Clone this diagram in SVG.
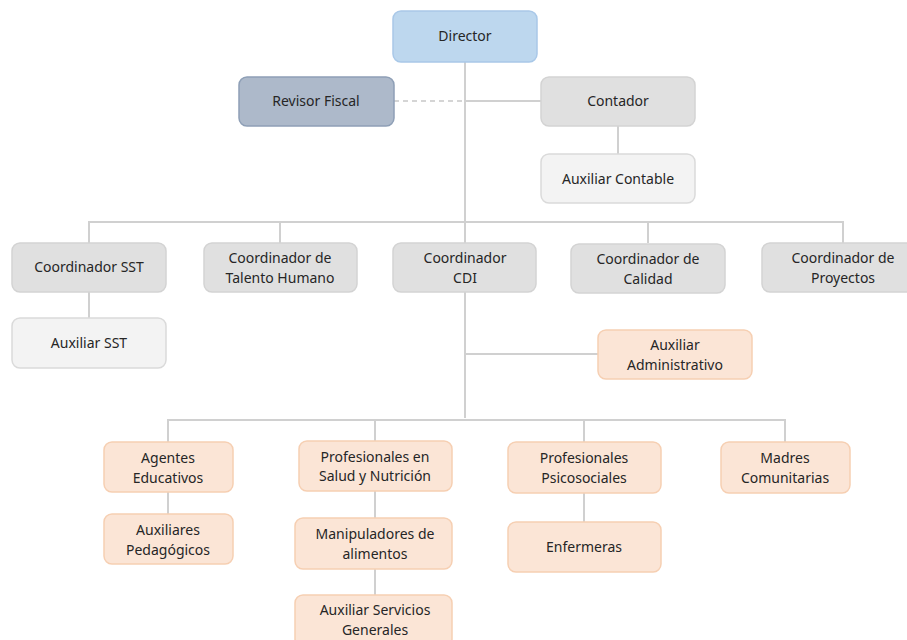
<svg xmlns="http://www.w3.org/2000/svg" width="907" height="640" viewBox="0 0 907 640">
<style>
.n{stroke-width:1.5}
.blue{fill:#bdd7ee;stroke:#a9c8e8}
.dark{fill:#adb9ca;stroke:#8e9fb6}
.gray{fill:#e0e0e0;stroke:#d3d3d3}
.light{fill:#f3f3f3;stroke:#dadada}
.org{fill:#fbe5d6;stroke:#f6cfb2}
text{font-family:"Noto Sans","Open Sans",sans-serif;font-size:14px;fill:#262626;text-anchor:middle}
.c{stroke:#d0d0d0;stroke-width:2;fill:none}
.d{stroke:#c8c8c8;stroke-width:1.5;stroke-dasharray:5,4;fill:none}
</style>
<rect width="907" height="640" fill="#fff"/>
<g id="connectors">
<line class="c" x1="465" y1="62" x2="465" y2="418"/>
<line class="d" x1="394" y1="101" x2="465" y2="101"/>
<line class="c" x1="465" y1="101" x2="541" y2="101"/>
<line class="c" x1="618" y1="126" x2="618" y2="154"/>
<polyline class="c" points="89,243 89,222 843,222 843,243"/>
<line class="c" x1="280" y1="222" x2="280" y2="243"/>
<line class="c" x1="648" y1="222" x2="648" y2="243"/>
<line class="c" x1="89" y1="292" x2="89" y2="318"/>
<line class="c" x1="465" y1="354" x2="598" y2="354"/>
<polyline class="c" points="168,442 168,420 785,420 785,442"/>
<line class="c" x1="375" y1="420" x2="375" y2="441"/>
<line class="c" x1="584" y1="420" x2="584" y2="442"/>
<line class="c" x1="168" y1="492" x2="168" y2="514"/>
<line class="c" x1="375" y1="491" x2="375" y2="518"/>
<line class="c" x1="375" y1="569" x2="375" y2="595"/>
<line class="c" x1="584" y1="493" x2="584" y2="522"/>
</g>
<g id="director"><rect class="n blue" x="393" y="11" width="144" height="51" rx="8"/><text x="465" y="41">Director</text></g>
<g id="revisor"><rect class="n dark" x="239" y="77" width="155" height="49" rx="8"/><text x="316" y="106">Revisor Fiscal</text></g>
<g id="contador"><rect class="n gray" x="541" y="77" width="154" height="49" rx="8"/><text x="618" y="106">Contador</text></g>
<g id="auxcontable"><rect class="n light" x="541" y="154" width="154" height="49" rx="8"/><text x="618" y="184">Auxiliar Contable</text></g>
<g id="coordsst"><rect class="n gray" x="12" y="243" width="154" height="49" rx="8"/><text x="89" y="272">Coordinador SST</text></g>
<g id="coordth"><rect class="n gray" x="204" y="243" width="153" height="49" rx="8"/><text x="280" y="263">Coordinador de</text><text x="280" y="283">Talento Humano</text></g>
<g id="coordcdi"><rect class="n gray" x="393" y="243" width="143" height="49" rx="8"/><text x="465" y="263">Coordinador</text><text x="465" y="283">CDI</text></g>
<g id="coordcal"><rect class="n gray" x="571" y="244" width="154" height="49" rx="8"/><text x="648" y="264">Coordinador de</text><text x="648" y="284">Calidad</text></g>
<g id="coordproy"><rect class="n gray" x="762" y="243" width="162" height="49" rx="8"/><text x="843" y="263">Coordinador de</text><text x="843" y="283">Proyectos</text></g>
<g id="auxsst"><rect class="n light" x="12" y="318" width="154" height="50" rx="8"/><text x="89" y="348">Auxiliar SST</text></g>
<g id="auxadmin"><rect class="n org" x="598" y="330" width="154" height="49" rx="8"/><text x="675" y="350">Auxiliar</text><text x="675" y="370">Administrativo</text></g>
<g id="agentes"><rect class="n org" x="104" y="442" width="129" height="50" rx="8"/><text x="168" y="463">Agentes</text><text x="168" y="483">Educativos</text></g>
<g id="profsalud"><rect class="n org" x="299" y="441" width="153" height="50" rx="8"/><text x="375" y="462">Profesionales en</text><text x="375" y="481">Salud y Nutrición</text></g>
<g id="profpsico"><rect class="n org" x="508" y="442" width="153" height="51" rx="8"/><text x="584" y="463">Profesionales</text><text x="584" y="483">Psicosociales</text></g>
<g id="madres"><rect class="n org" x="721" y="442" width="129" height="51" rx="8"/><text x="785" y="463">Madres</text><text x="785" y="483">Comunitarias</text></g>
<g id="auxped"><rect class="n org" x="104" y="514" width="129" height="50" rx="8"/><text x="168" y="535">Auxiliares</text><text x="168" y="555">Pedagógicos</text></g>
<g id="manip"><rect class="n org" x="295" y="518" width="157" height="51" rx="8"/><text x="375" y="539">Manipuladores de</text><text x="375" y="559">alimentos</text></g>
<g id="enfermeras"><rect class="n org" x="508" y="522" width="153" height="50" rx="8"/><text x="584" y="552">Enfermeras</text></g>
<g id="auxserv"><rect class="n org" x="295" y="595" width="157" height="52" rx="8"/><text x="375" y="615">Auxiliar Servicios</text><text x="375" y="635">Generales</text></g>
</svg>
